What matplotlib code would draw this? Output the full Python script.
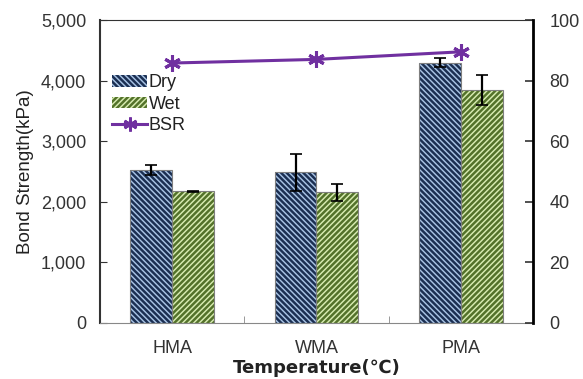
import matplotlib
matplotlib.use("Agg")
import matplotlib.pyplot as plt
import numpy as np
from matplotlib.patches import Patch
from matplotlib.lines import Line2D

plt.rcParams['font.family'] = ['Liberation Sans', 'DejaVu Sans']
plt.rcParams['hatch.linewidth'] = 1.05

categories = ["HMA", "WMA", "PMA"]
dry = [2525, 2487, 4295]
dry_err = [75, 305, 75]
wet = [2170, 2157, 3845]
wet_err = [15, 140, 250]
bsr = [85.8, 87.0, 89.5]

fig = plt.figure(figsize=(5.83, 3.79), dpi=100)
ax = fig.add_axes([0.1715, 0.1478, 0.7425, 0.7994])

x = np.arange(len(categories)) + 0.5
w = 0.29
txt = '#333333'
dry_hatch = '\\' * 6
wet_hatch = '/' * 6

# hatched fill first, then an outline on top
ax.bar(x - w / 2, dry, w, color='#1b2f52', edgecolor='#a8c3e4', hatch=dry_hatch, linewidth=0)
ax.bar(x + w / 2, wet, w, color='#53722a', edgecolor='#d8ecb2', hatch=wet_hatch, linewidth=0)
ax.bar(x - w / 2, dry, w, fill=False, edgecolor='#7f7f7f', linewidth=0.8)
ax.bar(x + w / 2, wet, w, fill=False, edgecolor='#7f7f7f', linewidth=0.8)
ax.errorbar(x - w / 2, dry, yerr=dry_err, fmt='none', ecolor='black', capsize=4, elinewidth=1.6, capthick=1.2)
ax.errorbar(x + w / 2, wet, yerr=wet_err, fmt='none', ecolor='black', capsize=4, elinewidth=1.6, capthick=1.2)

ax.set_xlim(0, 3)
ax.set_ylim(0, 5000)
ax.set_yticks(np.arange(0, 5001, 1000))
ax.set_yticklabels([f"{v:,}" for v in range(0, 5001, 1000)])
ax.set_xticks(x)
ax.set_xticklabels(categories)
ax.set_xticks([1, 2, 3], minor=True)
ax.tick_params(axis='x', which='major', length=0, labelsize=13, colors=txt, pad=12)
ax.tick_params(axis='x', which='minor', direction='in', length=5, color='#888888')
ax.tick_params(axis='y', direction='in', length=5, labelsize=13, colors=txt, pad=10)
ax.spines['left'].set_color('#333333')
ax.spines['left'].set_linewidth(1.5)
ax.spines['bottom'].set_color('#888888')
ax.spines['top'].set_color('#333333')
ax.spines['top'].set_linewidth(0.8)
ax.spines['right'].set_visible(False)
ax.set_ylabel("Bond Strength(kPa)", fontsize=13.5, color='#222222', labelpad=5)
ax.set_xlabel("Temperature(℃)", fontsize=13, fontweight='bold', color='#222222', labelpad=2,
              family=['DejaVu Sans'])

ax2 = ax.twinx()
ax2.plot(x, bsr, color='#7030a0', linewidth=2.2, marker=(6, 2, 0), markersize=12,
         markeredgewidth=2.2, label='BSR')
ax2.set_ylim(0, 100)
ax2.set_yticks(np.arange(0, 101, 20))
ax2.tick_params(axis='y', direction='in', length=6, width=1.2, labelsize=13, colors=txt, pad=12)
for s in ['left', 'top', 'bottom']:
    ax2.spines[s].set_visible(False)
ax2.spines['right'].set_color('black')
ax2.spines['right'].set_linewidth(2.0)

handles = [
    Patch(facecolor='#1b2f52', edgecolor='#a8c3e4', hatch=dry_hatch, linewidth=0, label='Dry'),
    Patch(facecolor='#53722a', edgecolor='#d8ecb2', hatch=wet_hatch, linewidth=0, label='Wet'),
    Line2D([0], [0], color='#7030a0', linewidth=2.2, marker=(6, 2, 0), markersize=10,
           markeredgewidth=2.0, label='BSR'),
]
leg = ax2.legend(handles=handles, loc='upper left', bbox_to_anchor=(0.012, 0.845), frameon=False,
                 fontsize=13, handlelength=1.9, handleheight=0.6, handletextpad=0.1,
                 labelspacing=0.25, borderaxespad=0)
for t in leg.get_texts():
    t.set_color('#222222')

fig.savefig("out.png", dpi=100)
